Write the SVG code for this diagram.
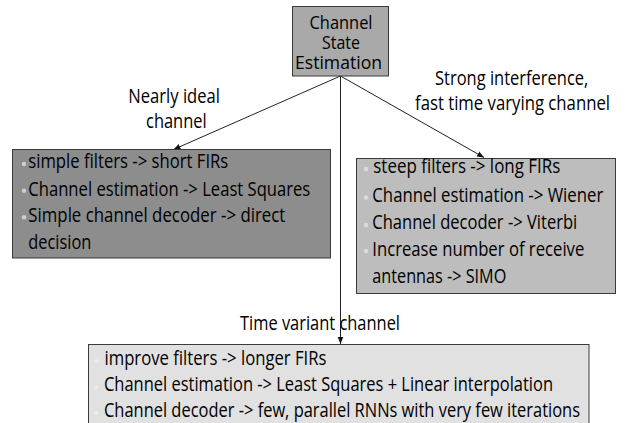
<svg xmlns="http://www.w3.org/2000/svg" width="630" height="423" viewBox="0 0 630 423">
  <defs>
    <marker id="arrow" viewBox="0 0 8 8" refX="8" refY="4" markerWidth="7" markerHeight="7" markerUnits="userSpaceOnUse" orient="auto">
      <path d="M0,0.8 L8,4 L0,7.2 Z" fill="#111"/>
    </marker>
    <style>
      text { font-family: "Open Sans", "Noto Sans", "DejaVu Sans", sans-serif; font-size: 19.5px; fill: #000; }
      .root { font-size: 19px; }
      .box { stroke: #3a3a3a; stroke-width: 1; }
      .edge { stroke: #222; stroke-width: 1; fill: none; marker-end: url(#arrow); }
      .mid { text-anchor: middle; }
    </style>
  </defs>

  <rect width="630" height="423" fill="#ffffff"/>

  <!-- connectors -->
  <g id="connectors">
    <line class="edge" x1="340.5" y1="76" x2="173.5" y2="149.5"/>
    <line class="edge" x1="340.5" y1="76" x2="484" y2="157.5"/>
    <line class="edge" x1="340.5" y1="76" x2="340.5" y2="344"/>
  </g>

  <!-- root node -->
  <g id="channel-state-estimation">
    <rect class="box" x="292.5" y="6.5" width="96" height="69.5" fill="#a9a9a9"/>
    <text class="mid root" x="341" y="28.5" textLength="63" lengthAdjust="spacingAndGlyphs">Channel</text>
    <text class="mid root" x="341" y="49" textLength="38" lengthAdjust="spacingAndGlyphs">State</text>
    <text class="mid root" x="338.5" y="68.5" textLength="87" lengthAdjust="spacingAndGlyphs">Estimation</text>
  </g>

  <!-- edge labels -->
  <g id="labels">
    <text x="128.3" y="102.5" textLength="91.7" lengthAdjust="spacingAndGlyphs">Nearly ideal</text>
    <text x="146" y="128.3" textLength="60.7" lengthAdjust="spacingAndGlyphs">channel</text>
    <text x="435" y="85" textLength="153.3" lengthAdjust="spacingAndGlyphs">Strong interference,</text>
    <text x="415" y="110" textLength="195" lengthAdjust="spacingAndGlyphs">fast time varying channel</text>
    <text x="240" y="329.5" textLength="160" lengthAdjust="spacingAndGlyphs">Time variant channel</text>
  </g>

  <!-- nearly ideal channel -->
  <g id="ideal-channel">
    <rect class="box" x="12.5" y="149.5" width="318" height="108.5" fill="#8d8d8d"/>
    <g fill="#cfcfcf">
      <circle cx="24" cy="164" r="2.2"/>
      <circle cx="24" cy="190.7" r="2.2"/>
      <circle cx="24" cy="217.3" r="2.2"/>
    </g>
    <text x="28.3" y="168.3" textLength="200" lengthAdjust="spacingAndGlyphs">simple filters -&gt; short FIRs</text>
    <text x="28.3" y="195.5" textLength="282" lengthAdjust="spacingAndGlyphs">Channel estimation -&gt; Least Squares</text>
    <text x="28.3" y="222" textLength="257" lengthAdjust="spacingAndGlyphs">Simple channel decoder -&gt; direct</text>
    <text x="28.3" y="248.5" textLength="63" lengthAdjust="spacingAndGlyphs">decision</text>
  </g>

  <!-- strong interference, fast time varying channel -->
  <g id="fast-varying-channel">
    <rect class="box" x="356.5" y="158.5" width="259" height="135" fill="#bdbdbd"/>
    <g fill="#dcdcdc">
      <circle cx="366" cy="169" r="2.2"/>
      <circle cx="366" cy="197.5" r="2.2"/>
      <circle cx="366" cy="225" r="2.2"/>
      <circle cx="366" cy="251" r="2.2"/>
    </g>
    <text x="373.3" y="173.3" textLength="187" lengthAdjust="spacingAndGlyphs">steep filters -&gt; long FIRs</text>
    <text x="372.3" y="201.7" textLength="231" lengthAdjust="spacingAndGlyphs">Channel estimation -&gt; Wiener</text>
    <text x="372.3" y="229.3" textLength="205" lengthAdjust="spacingAndGlyphs">Channel decoder -&gt; Viterbi</text>
    <text x="372.3" y="255.5" textLength="212" lengthAdjust="spacingAndGlyphs">Increase number of receive</text>
    <text x="372.3" y="282.7" textLength="134" lengthAdjust="spacingAndGlyphs">antennas -&gt; SIMO</text>
  </g>

  <!-- time variant channel -->
  <g id="time-variant-channel">
    <rect class="box" x="88.5" y="344.5" width="500.5" height="85" fill="#e1e1e1"/>
    <g fill="#ececec">
      <circle cx="96.5" cy="361" r="2"/>
      <circle cx="96.5" cy="387.5" r="2"/>
      <circle cx="96.5" cy="413" r="2"/>
    </g>
    <text x="104.5" y="365" textLength="222" lengthAdjust="spacingAndGlyphs">improve filters -&gt; longer FIRs</text>
    <text x="104" y="391" textLength="449" lengthAdjust="spacingAndGlyphs">Channel estimation -&gt; Least Squares + Linear interpolation</text>
    <text x="104" y="416.5" textLength="476" lengthAdjust="spacingAndGlyphs">Channel decoder -&gt; few, parallel RNNs with very few iterations</text>
  </g>
</svg>
